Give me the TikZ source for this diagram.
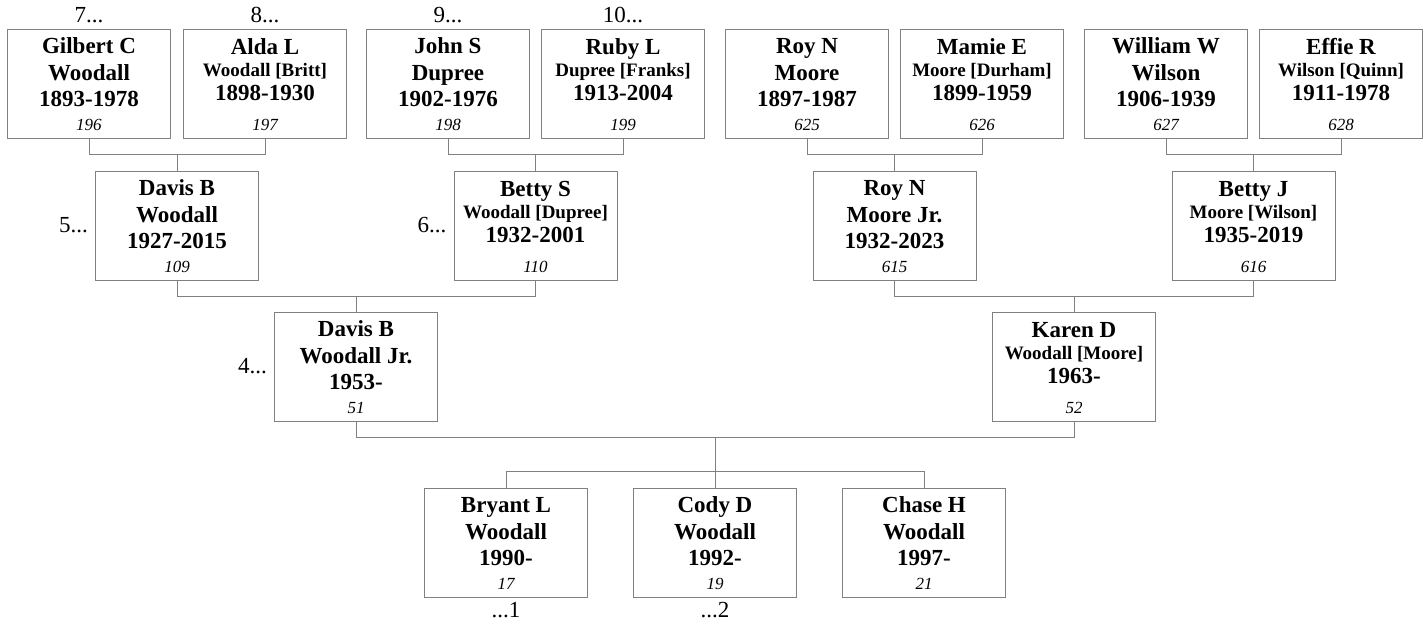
\documentclass[tikz,border=0pt]{standalone}
\usepackage{fontspec}
\setmainfont{Liberation Serif}
\usetikzlibrary{positioning}
\newcommand{\namefont}{\fontsize{23}{26}\selectfont\bfseries}
\newcommand{\maidfont}{\fontsize{19}{22}\selectfont\bfseries}
\newcommand{\numfont}{\fontsize{17}{20}\selectfont\itshape}
\newcommand{\boxline}[1]{\hbox to 163pt{\hss\smash{#1}\hss}}
% given name, surname, years, number
\newcommand{\blood}[4]{\vbox to 109pt{\offinterlineskip
  \kern24.5pt\boxline{\namefont #1}%
  \kern26.5pt\boxline{\namefont #2}%
  \kern26.5pt\boxline{\namefont #3}%
  \kern23.5pt\boxline{\numfont #4}\vss}}
% given name, married [maiden] name, years, number
\newcommand{\inlaw}[4]{\vbox to 109pt{\offinterlineskip
  \kern25pt\boxline{\namefont #1}%
  \kern22pt\boxline{\maidfont #2}%
  \kern24pt\boxline{\namefont #3}%
  \kern30pt\boxline{\numfont #4}\vss}}
\begin{document}
\begin{tikzpicture}[x=1pt, y=-1pt,
    pbox/.style={draw=black!50, line width=1pt, inner sep=0pt},
    link/.style={draw=black!50, line width=1pt},
    dots/.style={inner sep=0pt, font=\fontsize{23}{26}\selectfont}]
	%%%%% START %%%%%
	\useasboundingbox (0,0) rectangle (1427,624);

	% great-grandparents
	\node[pbox] (gilbert) at (89, 83.5) {\blood{Gilbert C}{Woodall}{1893-1978}{196}};
	\node[pbox] (alda) at (265, 83.5) {\inlaw{Alda L}{Woodall [Britt]}{1898-1930}{197}};
	\node[pbox] (john) at (448, 83.5) {\blood{John S}{Dupree}{1902-1976}{198}};
	\node[pbox] (ruby) at (623, 83.5) {\inlaw{Ruby L}{Dupree [Franks]}{1913-2004}{199}};
	\node[pbox] (roy) at (807, 83.5) {\blood{Roy N}{Moore}{1897-1987}{625}};
	\node[pbox] (mamie) at (982, 83.5) {\inlaw{Mamie E}{Moore [Durham]}{1899-1959}{626}};
	\node[pbox] (william) at (1166, 83.5) {\blood{William W}{Wilson}{1906-1939}{627}};
	\node[pbox] (effie) at (1341, 83.5) {\inlaw{Effie R}{Wilson [Quinn]}{1911-1978}{628}};

	% grandparents
	\node[pbox] (davis) at (177, 225.5) {\blood{Davis B}{Woodall}{1927-2015}{109}};
	\node[pbox] (bettys) at (535.5, 225.5) {\inlaw{Betty S}{Woodall [Dupree]}{1932-2001}{110}};
	\node[pbox] (royjr) at (894.5, 225.5) {\blood{Roy N}{Moore Jr.}{1932-2023}{615}};
	\node[pbox] (bettyj) at (1253.5, 225.5) {\inlaw{Betty J}{Moore [Wilson]}{1935-2019}{616}};

	% parents
	\node[pbox] (davisjr) at (356, 366.5) {\blood{Davis B}{Woodall Jr.}{1953-}{51}};
	\node[pbox] (karen) at (1074, 366.5) {\inlaw{Karen D}{Woodall [Moore]}{1963-}{52}};

	% children
	\node[pbox] (bryant) at (506, 542.5) {\blood{Bryant L}{Woodall}{1990-}{17}};
	\node[pbox] (cody) at (715, 542.5) {\blood{Cody D}{Woodall}{1992-}{19}};
	\node[pbox] (chase) at (924, 542.5) {\blood{Chase H}{Woodall}{1997-}{21}};

	% continuation marks
	\node[dots, above=5pt of gilbert] (n7) {7...};
	\node[dots, above=5pt of alda] (n8) {8...};
	\node[dots, above=5pt of john] (n9) {9...};
	\node[dots, above=5pt of ruby] (n10) {10...};
	\node[dots, left=7pt of davis] (n5) {5...};
	\node[dots, left=7pt of bettys] (n6) {6...};
	\node[dots, left=7pt of davisjr] (n4) {4...};
	\node[dots, below=5pt of bryant] (n1) {...1};
	\node[dots, below=5pt of cody] (n2) {...2};

	% couples and their child
	\draw[link] (gilbert.south) -- ++(0,16) -| (alda.south);
	\draw[link] (davis.north) -- ++(0,-17);
	\draw[link] (john.south) -- ++(0,16) -| (ruby.south);
	\draw[link] (bettys.north) -- ++(0,-17);
	\draw[link] (roy.south) -- ++(0,16) -| (mamie.south);
	\draw[link] (royjr.north) -- ++(0,-17);
	\draw[link] (william.south) -- ++(0,16) -| (effie.south);
	\draw[link] (bettyj.north) -- ++(0,-17);

	\draw[link] (davis.south) -- ++(0,16) -| (bettys.south);
	\draw[link] (davisjr.north) -- ++(0,-16);
	\draw[link] (royjr.south) -- ++(0,16) -| (bettyj.south);
	\draw[link] (karen.north) -- ++(0,-16);

	\draw[link] (davisjr.south) -- ++(0,16) -| (karen.south);
	\draw[link] (cody.north) -- ++(0,-51);
	\draw[link] (bryant.north) -- ++(0,-16) -| (chase.north);

	%%%%% END %%%%%
\end{tikzpicture}
\end{document}
